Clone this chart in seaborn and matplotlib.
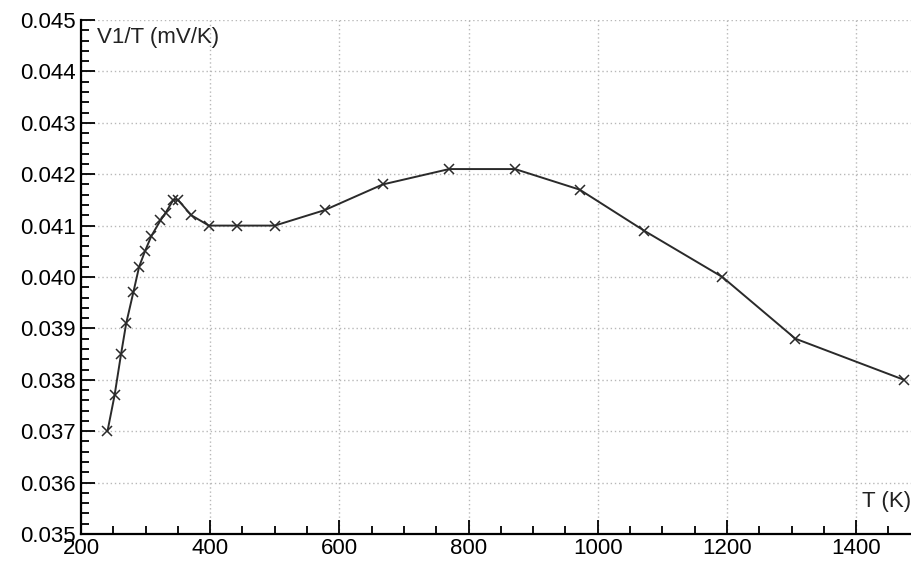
import matplotlib

matplotlib.use("Agg")
import matplotlib.pyplot as plt
import pandas as pd
import seaborn as sns
from matplotlib.ticker import MultipleLocator, FormatStrFormatter

# values
temperature_k = [241, 252, 262, 270, 281, 290, 299, 309, 323, 331, 343, 350,
                 371, 398, 441, 500, 577, 667, 770, 872, 972, 1072, 1193,
                 1306, 1474]
v1_over_t = [0.0370, 0.0377, 0.0385, 0.0391, 0.0397, 0.0402, 0.0405, 0.0408,
             0.0411, 0.04125, 0.0415, 0.0415, 0.0412, 0.0410, 0.0410, 0.0410,
             0.0413, 0.0418, 0.0421, 0.0421, 0.0417, 0.0409, 0.0400, 0.0388,
             0.0380]
x_label = "T (K)"
y_label = "V1/T (mV/K)"

sns.set_style("white")
plt.rcParams["font.family"] = ["Liberation Sans", "DejaVu Sans"]

df = pd.DataFrame({"T": temperature_k, "V": v1_over_t})

W, H = 911, 564
L, B = 81, 30
fig = plt.figure(figsize=(W / 100, H / 100), dpi=100)
ax = fig.add_axes([L / W, B / H, 1 - L / W, 514 / H])

sns.lineplot(data=df, x="T", y="V", sort=False, estimator=None,
             color="#2a2a2a", linewidth=1.4, marker="x", markersize=7,
             markeredgewidth=1.1, markeredgecolor="#2a2a2a", ax=ax)

ax.set_xlim(200, 1485)
ax.set_ylim(0.035, 0.045)
ax.xaxis.set_major_locator(MultipleLocator(200))
ax.xaxis.set_minor_locator(MultipleLocator(50))
ax.yaxis.set_major_locator(MultipleLocator(0.001))
ax.yaxis.set_minor_locator(MultipleLocator(0.0002))
ax.yaxis.set_major_formatter(FormatStrFormatter("%.3f"))

ax.grid(True, which="major", linestyle=(0, (1, 2)), color="#b8b8b8",
        linewidth=1.0)
for side in ["top", "right"]:
    ax.spines[side].set_visible(False)
for side in ["left", "bottom"]:
    ax.spines[side].set_color("black")
    ax.spines[side].set_linewidth(1.6)

ax.tick_params(which="both", bottom=True, left=True, direction="in",
               width=1.3, colors="black")
ax.tick_params(which="major", length=10, labelsize=16, pad=3)
ax.tick_params(which="minor", length=6)
ax.tick_params(axis="y", which="major", pad=4)

ax.set_xlabel("")
ax.set_ylabel("")
# axis titles sit inside the plot area, placed in pixel terms
ax.text((97 - L) / (W - L), (H - 37 - B) / 514, y_label, fontsize=16,
        ha="left", va="center", color="#222222", transform=ax.transAxes)
ax.text((862 - L) / (W - L), (H - 502 - B) / 514, x_label, fontsize=16,
        ha="left", va="center", color="#222222", transform=ax.transAxes,
        clip_on=True)

fig.savefig("out.png", dpi=100)
